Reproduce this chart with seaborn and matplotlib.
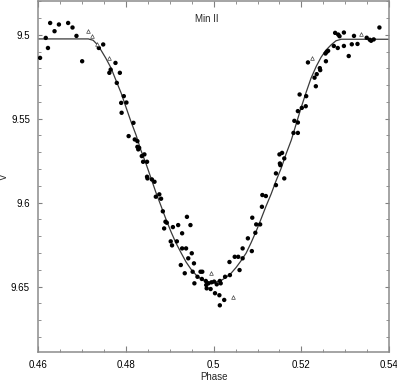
import numpy as np
import pandas as pd
import seaborn as sns
import matplotlib
matplotlib.use("Agg")
import matplotlib.pyplot as plt
import matplotlib.ticker as ticker

# observed V magnitudes (filled circles)
phase_obs = [0.4604, 0.4617, 0.4622, 0.4627, 0.4637, 0.4647, 0.4668, 0.4678, 0.4687, 0.4700,
             0.4738, 0.4748, 0.4776, 0.4762, 0.4765, 0.4786, 0.4779, 0.4795, 0.4789, 0.4801,
             0.4790, 0.4817, 0.4806, 0.4820, 0.4826, 0.4826, 0.4830, 0.4828, 0.4836, 0.4842,
             0.4839, 0.4848, 0.4848, 0.4849, 0.4859, 0.4865, 0.4876, 0.4880, 0.4868, 0.4884,
             0.4890, 0.4893, 0.4887, 0.4907, 0.4919, 0.4939, 0.4947, 0.4928, 0.4902, 0.4916,
             0.4905, 0.4928, 0.4937, 0.4950, 0.4942, 0.4925, 0.4955, 0.4952, 0.4970, 0.4974,
             0.4934, 0.4963, 0.4973, 0.4956, 0.4982, 0.4988, 0.4995, 0.5001, 0.5007, 0.5014,
             0.5016, 0.4983, 0.4984, 0.4993, 0.5003, 0.5013, 0.5024, 0.5014, 0.5026, 0.5037,
             0.5036, 0.5048, 0.5056, 0.5059, 0.5066, 0.5087, 0.5066, 0.5078, 0.5095, 0.5088,
             0.5097, 0.5106, 0.5110, 0.5111, 0.5119, 0.5142, 0.5142, 0.5161, 0.5151, 0.5152,
             0.5150, 0.5156, 0.5161, 0.5182, 0.5192, 0.5184, 0.5192, 0.5192, 0.5201, 0.5210,
             0.5196, 0.5211, 0.5233, 0.5230, 0.5235, 0.5242, 0.5243, 0.5215, 0.5256, 0.5255,
             0.5258, 0.5261, 0.5274, 0.5283, 0.5277, 0.5284, 0.5287, 0.5297, 0.5297, 0.5308,
             0.5315, 0.5320, 0.5328, 0.5349, 0.5356, 0.5359, 0.5365, 0.5378]
mag_obs = [9.5138, 9.5019, 9.5079, 9.4930, 9.4979, 9.4939, 9.4930, 9.4957, 9.5007, 9.5158,
           9.5079, 9.5058, 9.5168, 9.5227, 9.5208, 9.5227, 9.5287, 9.5366, 9.5406, 9.5404,
           9.5465, 9.5525, 9.5604, 9.5624, 9.5634, 9.5668, 9.5674, 9.5683, 9.5723, 9.5713,
           9.5757, 9.5757, 9.5846, 9.5856, 9.5862, 9.5876, 9.5951, 9.5977, 9.5965, 9.6052,
           9.6114, 9.6120, 9.6154, 9.6146, 9.6134, 9.6085, 9.6134, 9.6183, 9.6231, 9.6231,
           9.6255, 9.6273, 9.6273, 9.6302, 9.6332, 9.6372, 9.6362, 9.6412, 9.6412, 9.6412,
           9.6421, 9.6442, 9.6455, 9.6481, 9.6467, 9.6481, 9.6475, 9.6471, 9.6487, 9.6467,
           9.6481, 9.6491, 9.6511, 9.6515, 9.6540, 9.6552, 9.6580, 9.6612, 9.6442, 9.6432,
           9.6354, 9.6323, 9.6323, 9.6402, 9.6273, 9.6289, 9.6332, 9.6213, 9.6180, 9.6090,
           9.6130, 9.6130, 9.6025, 9.5955, 9.5961, 9.5896, 9.5826, 9.5856, 9.5767, 9.5777,
           9.5713, 9.5704, 9.5737, 9.5585, 9.5585, 9.5513, 9.5523, 9.5455, 9.5436, 9.5426,
           9.5356, 9.5366, 9.5307, 9.5256, 9.5235, 9.5199, 9.5211, 9.5165, 9.5158, 9.5112,
           9.5102, 9.5096, 9.5067, 9.5079, 9.4989, 9.4999, 9.5009, 9.4987, 9.5067, 9.5127,
           9.5057, 9.5007, 9.5055, 9.5018, 9.5030, 9.5036, 9.5028, 9.4957]

# second data set (open triangles)
phase_tri = [0.4713, 0.4722, 0.4734, 0.4761, 0.4993, 0.5043, 0.5225, 0.5337]
mag_tri = [9.4977, 9.5007, 9.5058, 9.5136, 9.6421, 9.6561, 9.5136, 9.4997]

# model light curve
phase_fit = [0.4600, 0.4714, 0.4725, 0.4734, 0.4743, 0.4754, 0.4766, 0.4777, 0.4789, 0.4800,
             0.4811, 0.4823, 0.4834, 0.4846, 0.4857, 0.4868, 0.4880, 0.4891, 0.4903, 0.4914,
             0.4926, 0.4937, 0.4948, 0.4960, 0.4971, 0.4983, 0.4994, 0.5005, 0.5017, 0.5028,
             0.5040, 0.5051, 0.5062, 0.5074, 0.5085, 0.5097, 0.5108, 0.5119, 0.5131, 0.5142,
             0.5154, 0.5165, 0.5177, 0.5188, 0.5199, 0.5211, 0.5222, 0.5234, 0.5245, 0.5256,
             0.5268, 0.5279, 0.5291, 0.5400]
mag_fit = [9.5025, 9.5025, 9.5033, 9.5057, 9.5092, 9.5140, 9.5199, 9.5271, 9.5348, 9.5432,
           9.5515, 9.5598, 9.5688, 9.5771, 9.5854, 9.5938, 9.6021, 9.6098, 9.6176, 9.6241,
           9.6301, 9.6354, 9.6396, 9.6432, 9.6455, 9.6470, 9.6476, 9.6473, 9.6464, 9.6446,
           9.6420, 9.6387, 9.6348, 9.6301, 9.6241, 9.6170, 9.6098, 9.6024, 9.5949, 9.5872,
           9.5795, 9.5711, 9.5628, 9.5533, 9.5438, 9.5342, 9.5259, 9.5188, 9.5134, 9.5092,
           9.5060, 9.5036, 9.5027, 9.5027]

sns.set_style("ticks")
plt.rcParams['font.family'] = ['Liberation Sans', 'DejaVu Sans']

fig = plt.figure(figsize=(3.97, 3.83), dpi=100)
ax = fig.add_axes([0.0965, 0.081, 0.8835, 0.916])

fit = pd.DataFrame({'phase': phase_fit, 'V': mag_fit})
obs = pd.DataFrame({'phase': phase_obs, 'V': mag_obs})
tri = pd.DataFrame({'phase': phase_tri, 'V': mag_tri})

sns.lineplot(data=fit, x='phase', y='V', sort=False, estimator=None,
             color='#3a3a3a', linewidth=0.9, ax=ax)
sns.scatterplot(data=obs, x='phase', y='V', color='black', s=10,
                edgecolor='none', ax=ax, zorder=3)
sns.scatterplot(data=tri, x='phase', y='V', marker='^', s=7, facecolor='white',
                edgecolor='#444444', linewidth=0.5, ax=ax, zorder=3)

ax.set_xlim(0.46, 0.54)
ax.set_ylim(9.689, 9.480)

ax.xaxis.set_major_locator(ticker.MultipleLocator(0.02))
ax.xaxis.set_minor_locator(ticker.MultipleLocator(0.005))
ax.yaxis.set_major_locator(ticker.MultipleLocator(0.05))
ax.yaxis.set_minor_locator(ticker.MultipleLocator(0.01))
ax.xaxis.set_major_formatter(ticker.FuncFormatter(lambda v, p: f"{v:g}"))
ax.yaxis.set_major_formatter(ticker.FuncFormatter(lambda v, p: f"{v:g}"))

ax.tick_params(which='both', direction='in', top=True, right=True,
               color='#808080', labelsize=7, labelcolor='black')
ax.tick_params(axis='x', which='major', length=4, pad=6)
ax.tick_params(axis='y', which='major', length=3, pad=6)
ax.tick_params(which='minor', length=2.5)

for sp in ax.spines.values():
    sp.set_color('#8c8c8c')
    sp.set_linewidth(1.1)

ax.set_xlabel('Phase', fontsize=7, labelpad=1)
ax.set_ylabel('V', fontsize=7)
ax.yaxis.set_label_coords(-0.083, 0.5)
ax.text(0.4985, 9.4908, 'Min II', fontsize=7, ha='center', va='center')

fig.savefig('out.png', dpi=100)
